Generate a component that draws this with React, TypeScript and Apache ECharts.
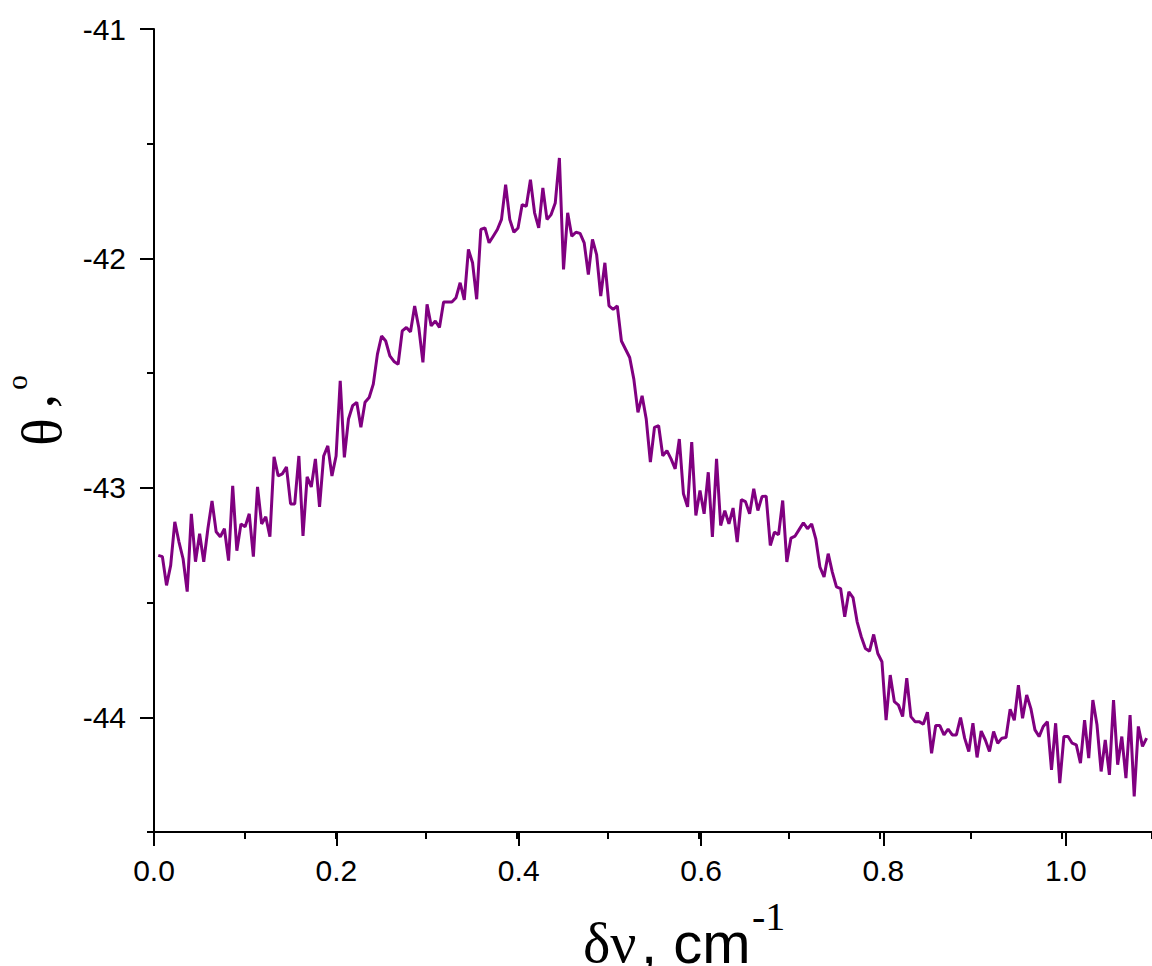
import React, { useEffect, useRef } from 'react';
import * as echarts from 'echarts';

// Sampling grid of the measurement (wavenumber detuning, cm^-1)
const X_START = 0.0047;
const X_STEP = 0.004558;

// Rotation angle θ (degrees), in order of increasing δν
const THETA: number[] = [
  -43.294, -43.300, -43.425, -43.338, -43.148, -43.235, -43.309, -43.452, -43.113, -43.322,
  -43.200, -43.322, -43.178, -43.057, -43.191, -43.213, -43.178, -43.317, -42.991, -43.274,
  -43.157, -43.170, -43.113, -43.300, -42.996, -43.157, -43.126, -43.213, -42.865, -42.948,
  -42.939, -42.909, -43.070, -43.070, -42.861, -43.209, -42.952, -42.996, -42.874, -43.083,
  -42.861, -42.817, -42.948, -42.861, -42.533, -42.867, -42.700, -42.642, -42.627, -42.736,
  -42.627, -42.606, -42.548, -42.417, -42.338, -42.360, -42.425, -42.449, -42.461, -42.316,
  -42.301, -42.320, -42.207, -42.301, -42.453, -42.200, -42.294, -42.273, -42.301, -42.190,
  -42.190, -42.190, -42.171, -42.106, -42.181, -41.961, -42.019, -42.178, -41.874, -41.867,
  -41.932, -41.903, -41.874, -41.830, -41.678, -41.830, -41.886, -41.867, -41.765, -41.773,
  -41.657, -41.801, -41.867, -41.693, -41.830, -41.809, -41.758, -41.562, -42.048, -41.801,
  -41.903, -41.886, -41.891, -41.932, -42.070, -41.917, -41.983, -42.164, -42.019, -42.207,
  -42.222, -42.207, -42.360, -42.396, -42.432, -42.526, -42.671, -42.599, -42.700, -42.888,
  -42.736, -42.729, -42.860, -42.838, -42.874, -42.917, -42.787, -43.026, -43.083, -42.801,
  -43.120, -43.012, -43.113, -42.932, -43.214, -42.874, -43.164, -43.099, -43.157, -43.088,
  -43.236, -43.051, -43.060, -43.113, -43.004, -43.099, -43.038, -43.036, -43.251, -43.193,
  -43.204, -43.055, -43.323, -43.219, -43.210, -43.181, -43.152, -43.178, -43.157, -43.222,
  -43.345, -43.388, -43.287, -43.367, -43.432, -43.439, -43.562, -43.453, -43.478, -43.584,
  -43.649, -43.700, -43.712, -43.639, -43.722, -43.758, -44.012, -43.816, -43.932, -43.947,
  -43.997, -43.830, -43.997, -44.019, -44.019, -44.030, -43.978, -44.157, -44.036, -44.036,
  -44.077, -44.051, -44.077, -44.077, -44.001, -44.091, -44.149, -44.026, -44.175, -44.060,
  -44.099, -44.149, -44.062, -44.113, -44.091, -44.088, -43.965, -44.013, -43.860, -44.004,
  -43.903, -43.961, -44.055, -44.084, -44.040, -44.019, -44.229, -44.026, -44.287, -44.084,
  -44.084, -44.113, -44.120, -44.200, -44.012, -44.178, -43.925, -44.033, -44.236, -44.099,
  -44.251, -43.925, -44.207, -44.084, -44.265, -43.990, -44.345, -44.040, -44.127, -44.091,
];

const X_MIN = 0;
const X_MAX = 1.1;
const X_MAJOR_MAX = 1.0;
const Y_MIN = -44.5;
const Y_MAJOR_MIN = -44;
const Y_MAX = -41;

export default function App() {
  const ref = useRef<HTMLDivElement>(null);

  useEffect(() => {
    if (!ref.current) return;
    const chart = echarts.init(ref.current, null, { renderer: 'svg' });
    const data = THETA.map((v, i) => [X_START + i * X_STEP, v]);

    const black = '#000';
    const sans = '"Liberation Sans", Arial, Helvetica, sans-serif';
    const serif = '"Liberation Serif", "Times New Roman", Times, serif';
    const axisLineStyle = { color: black, width: 2 };

    const plotTop = 29;
    const plotBottom = 134;
    const plotHeight = 966 - plotTop - plotBottom; // 803 px for 3.5 units
    const pxPerY = plotHeight / (Y_MAX - Y_MIN);
    const plotLeft = 154;
    const plotRight = -5;
    const plotWidth = 1152 - plotLeft - plotRight;
    const pxPerX = plotWidth / (X_MAX - X_MIN);

    chart.setOption({
      animation: false,
      backgroundColor: '#ffffff',
      grid: [
        { left: plotLeft, top: plotTop, right: plotRight, bottom: plotBottom },
        { left: plotLeft, top: plotTop, width: 100, height: pxPerY * (Y_MAX - Y_MAJOR_MIN) },
        { left: plotLeft, top: plotTop, width: pxPerX * (X_MAJOR_MAX - X_MIN), bottom: plotBottom },
      ],
      xAxis: [
        {
          gridIndex: 0,
          type: 'value',
          min: X_MIN,
          max: X_MAX,
          interval: 0.1,
          axisLine: { show: true, onZero: false, lineStyle: axisLineStyle },
          axisTick: { show: true, inside: false, length: 7, lineStyle: axisLineStyle },
          axisLabel: { show: false },
          splitLine: { show: false },
        },
        { gridIndex: 1, type: 'value', show: false, min: 0, max: 1 },
        {
          gridIndex: 2,
          type: 'value',
          min: X_MIN,
          max: X_MAJOR_MAX,
          interval: 0.2,
          axisLine: { show: false, onZero: false },
          axisTick: { show: true, inside: false, length: 14, lineStyle: axisLineStyle },
          axisLabel: {
            show: true,
            margin: 23,
            fontFamily: sans,
            fontSize: 30,
            color: black,
            formatter: (v: number) => v.toFixed(1),
          },
          splitLine: { show: false },
        },
      ],
      yAxis: [
        {
          gridIndex: 0,
          type: 'value',
          min: Y_MIN,
          max: Y_MAX,
          interval: 0.5,
          axisLine: { show: true, onZero: false, lineStyle: axisLineStyle },
          axisTick: { show: true, inside: false, length: 7, lineStyle: axisLineStyle },
          axisLabel: { show: false },
          splitLine: { show: false },
        },
        {
          gridIndex: 1,
          type: 'value',
          min: Y_MAJOR_MIN,
          max: Y_MAX,
          interval: 1,
          axisLine: { show: false, onZero: false },
          axisTick: { show: true, inside: false, length: 14, lineStyle: axisLineStyle },
          axisLabel: {
            show: true,
            margin: 28,
            fontFamily: sans,
            fontSize: 30,
            color: black,
          },
          splitLine: { show: false },
        },
        { gridIndex: 2, type: 'value', show: false, min: Y_MIN, max: Y_MAX },
      ],
      series: [
        {
          type: 'line',
          xAxisIndex: 0,
          yAxisIndex: 0,
          data,
          showSymbol: false,
          symbol: 'none',
          smooth: false,
          lineStyle: { color: '#800080', width: 3 },
          itemStyle: { color: '#800080' },
        },
      ],
      graphic: [
        {
          type: 'text',
          x: 583,
          y: 942,
          style: { text: 'δν', fontSize: 58, fontFamily: serif, fill: black, align: 'left', verticalAlign: 'middle' },
        },
        {
          type: 'text',
          x: 641,
          y: 942,
          style: { text: ', cm', fontSize: 58, fontFamily: sans, fill: black, align: 'left', verticalAlign: 'middle' },
        },
        {
          type: 'text',
          x: 752,
          y: 916,
          style: { text: '-1', fontSize: 40, fontFamily: serif, fill: black, align: 'left', verticalAlign: 'middle' },
        },
        {
          type: 'text',
          x: 41,
          y: 432,
          rotation: Math.PI / 2,
          style: { text: 'θ', fontSize: 58, fontFamily: serif, fill: black, align: 'center', verticalAlign: 'middle' },
        },
        {
          type: 'text',
          x: 33,
          y: 401,
          rotation: Math.PI / 2,
          style: { text: ',', fontSize: 58, fontFamily: serif, fill: black, align: 'center', verticalAlign: 'middle' },
        },
        {
          type: 'text',
          x: 16.5,
          y: 382.5,
          rotation: Math.PI / 2,
          style: { text: 'o', fontSize: 29, fontFamily: serif, fill: black, align: 'center', verticalAlign: 'middle' },
        },
      ],
    });

    return () => {
      chart.dispose();
    };
  }, []);

  return (
    <div
      ref={ref}
      style={{ position: 'fixed', left: 0, top: 0, width: 1152, height: 966, background: '#fff' }}
    />
  );
}
